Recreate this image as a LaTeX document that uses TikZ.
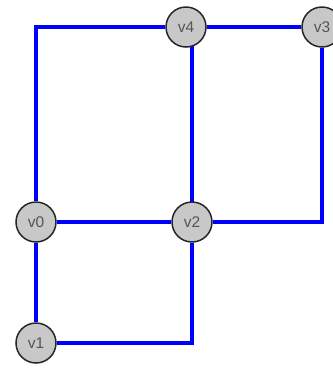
\documentclass[tikz,border=0pt]{standalone}
\usepackage{fontspec}
\setmainfont{Liberation Sans}
\usetikzlibrary{backgrounds}
\definecolor{nodefill}{RGB}{200,200,200}
\definecolor{nodetext}{RGB}{85,85,85}
\definecolor{edgeblue}{RGB}{0,0,255}
\tikzset{
  vert/.style={circle, draw=black!85, line width=1.5pt, fill=nodefill,
    minimum size=40pt, inner sep=0pt, text=nodetext,
    font=\fontsize{15.5}{17}\selectfont},
  edge/.style={draw=edgeblue, line width=3.2pt}
}
\begin{document}
\begin{tikzpicture}[x=1pt, y=-1pt]
\useasboundingbox (0,0) rectangle (333,368);
\node[vert] (v4) at (186,27) {v4};
\node[vert] (v3) at (322,27) {v3};
\node[vert] (v0) at (36,222) {v0};
\node[vert] (v2) at (192,222) {v2};
\node[vert] (v1) at (36,343) {v1};
\begin{scope}[on background layer]
\draw[edge] (v0) |- (v4);
\draw[edge] (v4) -- (v3);
\draw[edge] (v0) -- (v2);
\draw[edge] (v0) -- (v1);
\draw[edge] (v2.center) -- (v2.center |- v4.center);
\draw[edge] (v2) -| (v3);
\draw[edge] (v1) -| (v2);
\end{scope}
\end{tikzpicture}
\end{document}
